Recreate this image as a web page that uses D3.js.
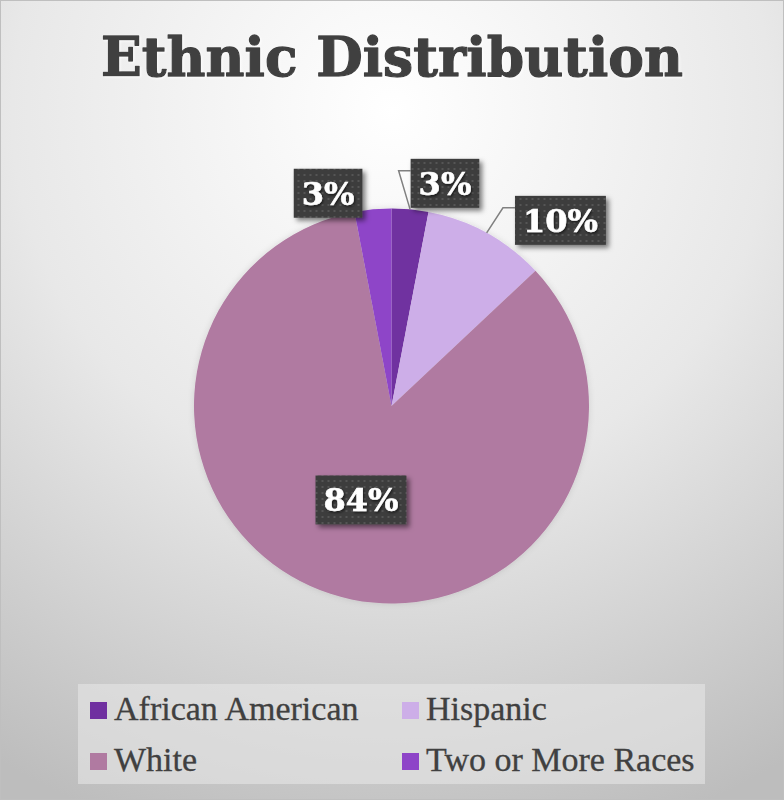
<!DOCTYPE html>
<html>
<head>
<meta charset="utf-8">
<script src="https://cdn.jsdelivr.net/npm/d3@7"></script>
<style>
  html, body { margin: 0; padding: 0; background: #ffffff; }
  svg { display: block; }
</style>
</head>
<body>
<svg id="chart" width="784" height="800"></svg>
<script>
// Chart data
const chartTitle = "Ethnic Distribution";
const categories = ["African American", "Hispanic", "White", "Two or More Races"];
const percentages = [3, 10, 84, 3];
const sliceColors = ["#7030a0", "#cdaee8", "#b07aa1", "#8e44c8"];

// Layout
const W = 784, H = 800;
const cx = 391.5, cy = 406, R = 197.5;
// Label placement per slice: "inside" uses the arc centroid, otherwise a polar position
// (degrees clockwise from 12 o'clock, distance from the pie centre); leader = draw a connector.
const labelPlacement = [
  { mode: "outside", angle: 13.5, dist: 229, leader: true },
  { mode: "outside", angle: 42.3, dist: 251, leader: true },
  { mode: "inside" },
  { mode: "outside", angle: -16.6, dist: 222, leader: false }
];

const svg = d3.select("#chart");
const defs = svg.append("defs");

// Background: soft radial gradient, light at the top centre
const bg = defs.append("radialGradient")
  .attr("id", "bgGrad")
  .attr("gradientUnits", "userSpaceOnUse")
  .attr("cx", 392).attr("cy", 110).attr("r", 760);
bg.append("stop").attr("offset", 0).attr("stop-color", "#ffffff");
bg.append("stop").attr("offset", 0.5).attr("stop-color", "#e8e8e8");
bg.append("stop").attr("offset", 1).attr("stop-color", "#bdbdbd");

// Dotted dark fill for the value labels
const pat = defs.append("pattern")
  .attr("id", "dots")
  .attr("patternUnits", "userSpaceOnUse")
  .attr("width", 6).attr("height", 6);
pat.append("rect").attr("width", 6).attr("height", 6).attr("fill", "#3c3c3c");
pat.append("rect").attr("x", 2).attr("y", 2).attr("width", 2).attr("height", 2).attr("fill", "#545454");

const boxShadow = defs.append("filter").attr("id", "boxShadow")
  .attr("x", "-30%").attr("y", "-30%").attr("width", "160%").attr("height", "170%");
boxShadow.append("feDropShadow")
  .attr("dx", 3).attr("dy", 3).attr("stdDeviation", 2.5)
  .attr("flood-color", "#000").attr("flood-opacity", 0.5);

const pieShadow = defs.append("filter").attr("id", "pieShadow")
  .attr("x", "-20%").attr("y", "-20%").attr("width", "140%").attr("height", "140%");
pieShadow.append("feDropShadow")
  .attr("dx", 0).attr("dy", 0).attr("stdDeviation", 3)
  .attr("flood-color", "#000").attr("flood-opacity", 0.12);

const textShadow = defs.append("filter").attr("id", "textShadow")
  .attr("x", "-20%").attr("y", "-20%").attr("width", "140%").attr("height", "150%");
textShadow.append("feDropShadow")
  .attr("dx", 1).attr("dy", 1.5).attr("stdDeviation", 1)
  .attr("flood-color", "#000").attr("flood-opacity", 0.6);

const titleGlow = defs.append("filter").attr("id", "titleGlow")
  .attr("x", "-5%").attr("y", "-20%").attr("width", "110%").attr("height", "140%");
titleGlow.append("feDropShadow")
  .attr("dx", 1).attr("dy", 1).attr("stdDeviation", 1)
  .attr("flood-color", "#ffffff").attr("flood-opacity", 0.9);

svg.append("rect")
  .attr("x", 0.5).attr("y", 0.5).attr("width", W - 1).attr("height", H - 1)
  .attr("fill", "url(#bgGrad)")
  .attr("stroke", "#bfbfbf").attr("stroke-width", 1);

// Title, fitted to its band width
const title = svg.append("text")
  .attr("x", 392).attr("y", 76)
  .attr("text-anchor", "middle")
  .attr("font-family", "'DejaVu Serif', serif")
  .attr("font-weight", "bold")
  .attr("font-size", 56)
  .attr("fill", "#404040")
  .attr("stroke", "#404040")
  .attr("stroke-width", 1.3)
  .attr("stroke-linejoin", "round")
  .attr("filter", "url(#titleGlow)")
  .text(chartTitle);
const tLen = title.node().getComputedTextLength();
title.attr("font-size", 56 * 582 / tLen);

// Pie
const data = categories.map((c, i) => ({ name: c, value: percentages[i], color: sliceColors[i], place: labelPlacement[i] }));
const pie = d3.pie().sort(null).value(d => d.value);
const arcs = pie(data);
const arc = d3.arc().innerRadius(0).outerRadius(R);

const g = svg.append("g").attr("transform", `translate(${cx},${cy})`);
g.append("g").attr("filter", "url(#pieShadow)")
  .selectAll("path")
  .data(arcs)
  .join("path")
  .attr("d", arc)
  .attr("fill", d => d.data.color);

// Value labels
const labelFont = 32;
const labelH = 49;
const pad = 8;
const labels = [];
arcs.forEach(a => {
  const p = a.data.place;
  let x, y;
  if (p.mode === "inside") {
    [x, y] = arc.centroid(a);
  } else {
    const t = p.angle * Math.PI / 180;
    x = p.dist * Math.sin(t);
    y = -p.dist * Math.cos(t);
  }
  labels.push({ a, x, y, text: d3.format(".0f")(a.data.value) + "%" });
});

const lg = g.append("g");
labels.forEach(l => {
  const t = lg.append("text")
    .attr("font-family", "'DejaVu Serif', serif")
    .attr("font-weight", "bold")
    .attr("font-size", labelFont)
    .text(l.text);
  l.tw = t.node().getComputedTextLength();
  t.remove();
  l.bw = l.tw + 2 * pad;
  l.left = l.x - l.bw / 2;
  l.top = l.y - labelH / 2;
});

// Leader lines from slice edge to label
labels.filter(l => l.a.data.place.leader).forEach(l => {
  const mid = (l.a.startAngle + l.a.endAngle) / 2;
  const ex = R * Math.sin(mid), ey = -R * Math.cos(mid);
  const ly = l.top + 12;
  lg.append("polyline")
    .attr("points", `${ex},${ey} ${l.left - 12},${ly} ${l.left},${ly}`)
    .attr("fill", "none")
    .attr("stroke", "#808080")
    .attr("stroke-width", 1.5);
});

labels.forEach(l => {
  lg.append("rect")
    .attr("x", l.left).attr("y", l.top)
    .attr("width", l.bw).attr("height", labelH)
    .attr("fill", "url(#dots)")
    .attr("filter", "url(#boxShadow)");
  lg.append("text")
    .attr("x", l.x).attr("y", l.y + labelFont * 0.36)
    .attr("text-anchor", "middle")
    .attr("font-family", "'DejaVu Serif', serif")
    .attr("font-weight", "bold")
    .attr("font-size", labelFont)
    .attr("fill", "#ffffff")
    .attr("stroke", "#ffffff")
    .attr("stroke-width", 0.6)
    .attr("filter", "url(#textShadow)")
    .text(l.text);
});

// Legend
const legend = svg.append("g");
legend.append("rect")
  .attr("x", 78).attr("y", 684).attr("width", 627).attr("height", 100)
  .attr("fill", "#e6e6e6").attr("fill-opacity", 0.6);
const colX = [90, 402], rowY = [702, 753], sw = 17;
const items = legend.selectAll("g.item")
  .data(data)
  .join("g")
  .attr("class", "item")
  .attr("transform", (d, i) => `translate(${colX[i % 2]},${rowY[Math.floor(i / 2)]})`);
items.append("rect")
  .attr("width", sw).attr("height", sw)
  .attr("fill", d => d.color);
items.append("text")
  .attr("x", 24).attr("y", 18)
  .attr("font-family", "'Liberation Serif', serif")
  .attr("font-size", 34)
  .attr("fill", "#404040")
  .attr("stroke", "#404040")
  .attr("stroke-width", 0.3)
  .text(d => d.name);
</script>
</body>
</html>
